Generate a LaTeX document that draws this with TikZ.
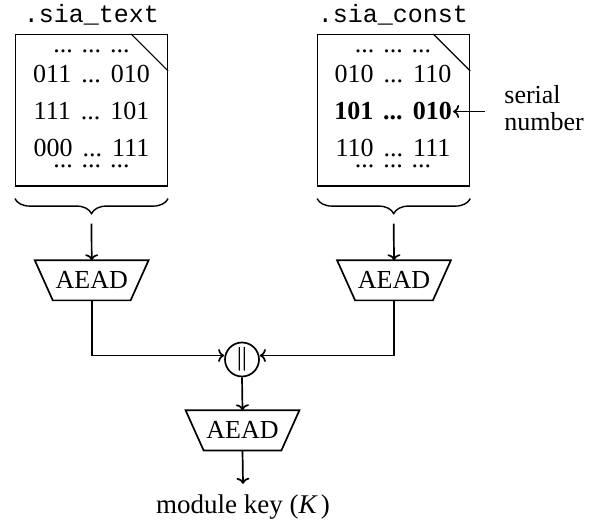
\documentclass[tikz,border=0pt]{standalone}
\usepackage{fontspec}
\setmainfont{Liberation Serif}
\setmonofont{Liberation Mono}
\usetikzlibrary{decorations.pathreplacing,calc,arrows.meta}
\newcommand{\rowtxt}[2]{#1\hspace{5pt}...\hspace{5pt}#2}
\newcommand{\dotrow}{...\hspace{4.5pt}...\hspace{4.5pt}...}
\begin{document}
\begin{tikzpicture}[x=0.5pt,y=-0.5pt,
 every node/.style={font=\fontsize{13}{15.6}\selectfont},
 membox/.style={draw, line width=0.6pt, minimum width=76pt, minimum height=75.7pt, inner sep=0pt},
 row/.style={inner sep=0.5pt, anchor=base},
 lbl/.style={font=\fontsize{12.5}{15}\selectfont\ttfamily, anchor=base, inner sep=0pt},
 aead/.style={minimum width=38.5pt, minimum height=19.65pt, inner sep=0pt},
 trap/.style={line width=0.85pt},
 conn/.style={line width=0.85pt, -{To[length=3pt,width=6.5pt]}},
 brc/.style={decorate, decoration={brace, amplitude=7.5pt}, line width=0.7pt},
 cat/.style={circle, draw, line width=0.85pt, minimum size=17pt, inner sep=0pt}
]
\useasboundingbox (0,0) rectangle (599,523);

% memory boxes
\node[membox] (T) at (91.5,110.3) {};
\node[membox] (C) at (393.7,110.3) {};
\draw[line width=0.6pt] ([xshift=-18.5pt]T.north east) -- ([yshift=-18.5pt]T.north east);
\draw[line width=0.6pt] ([xshift=-18.5pt]C.north east) -- ([yshift=-18.5pt]C.north east);

\node[lbl] (Tl) at (91.5,23) {.sia\_text};
\node[lbl] (Cl) at (393,23) {.sia\_const};

% rows left
\node[row] (t0) at (91.5,53) {\dotrow};
\node[row] (t1) at (91.5,82.5) {\rowtxt{011}{010}};
\node[row] (t2) at (91.5,119.5) {\rowtxt{111}{101}};
\node[row] (t3) at (91.5,157) {\rowtxt{000}{111}};
\node[row] (t4) at (91.5,168) {\dotrow};

% rows right
\node[row] (c0) at (393,53) {\dotrow};
\node[row] (c1) at (393,82.5) {\rowtxt{010}{110}};
\node[row] (c2) at (393,120) {\textbf{\rowtxt{101}{010}}};
\node[row] (c3) at (393,157) {\rowtxt{110}{111}};
\node[row] (c4) at (393,168) {\dotrow};

% serial number
\node[anchor=west, align=left, inner sep=0pt, font=\fontsize{13}{13.5}\selectfont] (sn) at (504,108.5) {serial\\number};
\draw[conn, shorten <=9.5pt] (sn.west |- c2.east) -- (c2.east);

% braces
\draw[brc] ([yshift=-6pt]T.south east) -- ([yshift=-6pt]T.south west);
\draw[brc] ([yshift=-6pt]C.south east) -- ([yshift=-6pt]C.south west);
\coordinate (bt) at ([yshift=-18.5pt]T.south);
\coordinate (bc) at ([yshift=-18.5pt]C.south);

% AEAD blocks
\node[aead] (A1) at (91.7,280.35) {AEAD};
\node[aead] (A2) at (394,280.35) {AEAD};
\node[aead] (A3) at (242.5,430.35) {AEAD};
\foreach \a in {A1,A2,A3}{
  \draw[trap] ([xshift=-9pt]\a.north west) -- ([xshift=9pt]\a.north east) -- (\a.south east) -- (\a.south west) -- cycle;
}

% concatenation
\node[cat] (cat) at (242,359.5) {||};

\node[anchor=base, inner sep=5pt, font=\fontsize{13.5}{16}\selectfont] (mk) at (243,513) {module key (\textit{K}\kern1.5pt)};

% connectors
\draw[conn] (bt) -- (A1.north);
\draw[conn] (bc) -- (A2.north);
\draw[conn] (A1.south) |- ([yshift=2pt]cat.west);
\draw[conn] (A2.south) |- ([yshift=2pt]cat.east);
\draw[conn] (cat.south) -- (A3.north);
\draw[conn] (A3.south) -- (mk.north);
\end{tikzpicture}
\end{document}
